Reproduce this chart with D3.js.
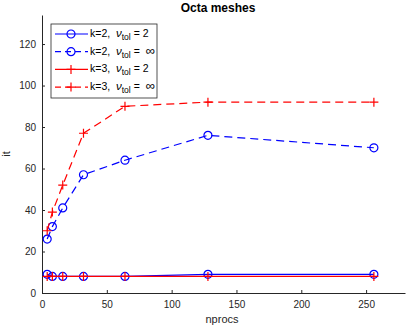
<!DOCTYPE html>
<html>
<head>
<meta charset="utf-8">
<script src="https://cdn.jsdelivr.net/npm/d3@7"></script>
<style>
  body { margin: 0; background: #fff; }
  text { font-family: "Liberation Sans", Arial, sans-serif; }
</style>
</head>
<body>
<div id="chart"></div>
<script>
var nprocs = [4, 8, 16, 32, 64, 128, 256];
var k2_nu2 = [9, 8, 8, 8, 8, 9, 9];
var k2_inf = [26, 32, 41, 57, 64, 76, 70];
var k3_nu2 = [8, 8, 8, 8, 8, 8, 8];
var k3_inf = [30, 39, 52, 77, 90, 92, 92];
var xTicks = [0, 50, 100, 150, 200, 250];
var yTicks = [0, 20, 40, 60, 80, 100, 120];

var series = [
  {k: 2, nu: "2", vals: k2_nu2, color: "#0000ff", dash: null, marker: "o"},
  {k: 2, nu: "\u221e", vals: k2_inf, color: "#0000ff", dash: "8,5", marker: "o"},
  {k: 3, nu: "2", vals: k3_nu2, color: "#ff0000", dash: null, marker: "+"},
  {k: 3, nu: "\u221e", vals: k3_inf, color: "#ff0000", dash: "8,5", marker: "+"}
];

var W = 407, H = 327,
    margin = {top: 15, right: 2, bottom: 34, left: 42},
    width = W - margin.left - margin.right,
    height = H - margin.top - margin.bottom;

var svg = d3.select("#chart").append("svg")
    .attr("width", W).attr("height", H);
var g = svg.append("g")
    .attr("transform", "translate(" + margin.left + "," + margin.top + ")");

var x = d3.scaleLinear().domain([0, 280]).range([0, width]);
var y = d3.scaleLinear().domain([0, 134]).range([height, 0]);

// axes, ticks inward like matlab
var xAxis = g.append("g")
    .attr("transform", "translate(0," + height + ")")
    .call(d3.axisBottom(x).tickValues(xTicks).tickSize(-3).tickPadding(6).tickSizeOuter(0));
var yAxis = g.append("g")
    .call(d3.axisLeft(y).tickValues(yTicks).tickSize(-3).tickPadding(6).tickSizeOuter(0));
[xAxis, yAxis].forEach(function(a) {
  a.selectAll("path, line").attr("stroke", "#262626");
  a.selectAll("text").attr("fill", "#262626").style("font-size", "10px");
});
xAxis.selectAll("text").attr("dy", "0.9em");

var line = d3.line()
    .x(function(d, i) { return x(nprocs[i]); })
    .y(function(d) { return y(d); });

function drawMarker(sel, type, color) {
  if (type == "o") {
    sel.append("circle").attr("r", 4)
      .attr("fill", "none").attr("stroke", color).attr("stroke-width", 1.2);
  } else {
    sel.append("path").attr("d", "M-4.5,0H4.5M0,-4.5V4.5")
      .attr("stroke", color).attr("stroke-width", 1.2);
  }
}

series.forEach(function(s) {
  g.append("path")
    .datum(s.vals)
    .attr("fill", "none")
    .attr("stroke", s.color)
    .attr("stroke-width", 1.2)
    .attr("stroke-dasharray", s.dash)
    .attr("d", line);
  var m = g.selectAll(null)
    .data(s.vals)
    .enter().append("g")
    .attr("transform", function(d, i) { return "translate(" + x(nprocs[i]) + "," + y(d) + ")"; });
  drawMarker(m, s.marker, s.color);
});

// title and labels
svg.append("text")
  .attr("x", 218).attr("y", 12)
  .attr("text-anchor", "middle")
  .style("font-size", "12px").style("font-weight", "bold")
  .attr("fill", "#000")
  .text("Octa meshes");

svg.append("text")
  .attr("x", 222).attr("y", 323)
  .attr("text-anchor", "middle")
  .style("font-size", "11px").attr("fill", "#262626")
  .text("nprocs");

svg.append("text")
  .attr("transform", "translate(10," + (margin.top + height / 2) + ") rotate(-90)")
  .attr("text-anchor", "middle")
  .style("font-size", "11px").attr("fill", "#262626")
  .text("it");

// legend
var legend = svg.append("g").attr("transform", "translate(51,24)");
legend.append("rect")
  .attr("width", 106).attr("height", 74)
  .attr("fill", "#fff").attr("stroke", "#262626").attr("stroke-width", 0.8);

var items = legend.selectAll(".item")
  .data(series)
  .enter().append("g")
  .attr("class", "item")
  .attr("transform", function(d, i) { return "translate(0," + (10 + i * 17.7) + ")"; });

items.append("line")
  .attr("x1", 4).attr("x2", 37)
  .attr("stroke", function(d) { return d.color; })
  .attr("stroke-width", 1.2)
  .attr("stroke-dasharray", function(d) { return d.dash ? "6,4" : null; });
items.each(function(d) {
  var mk = d3.select(this).append("g").attr("transform", "translate(20,0)");
  drawMarker(mk, d.marker, d.color);
});

var label = items.append("text")
  .attr("x", 39).attr("y", 3)
  .style("white-space", "pre")
  .style("font-size", "10.5px").attr("fill", "#000");
label.append("tspan").text(function(d) { return "k=" + d.k + ",  "; });
label.append("tspan").style("font-style", "italic").style("font-size", "11.5px").text("\u03bd");
label.append("tspan").attr("dy", 3).style("font-size", "8.5px").text("tol");
label.append("tspan").attr("dy", -3).text(" = ");
label.append("tspan")
  .style("font-size", function(d) { return d.nu == "2" ? null : "13px"; })
  .attr("dx", function(d) { return d.nu == "2" ? 0 : 3; })
  .text(function(d) { return d.nu; });
</script>
</body>
</html>
